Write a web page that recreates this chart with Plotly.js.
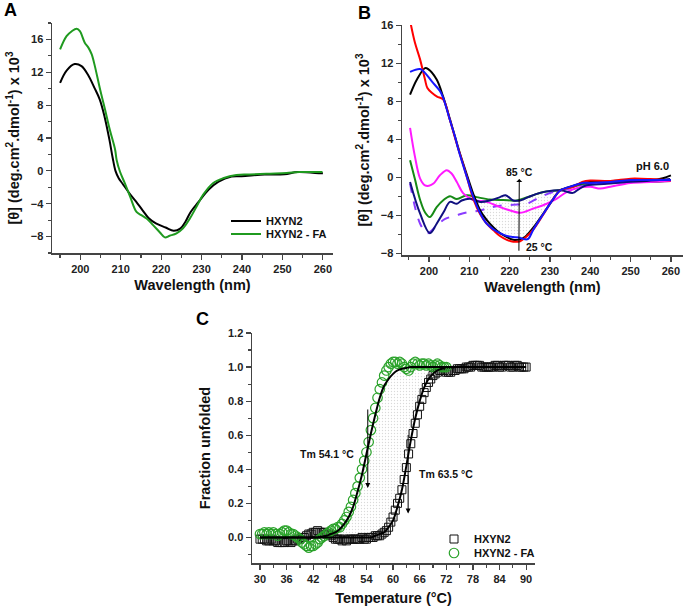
<!DOCTYPE html>
<html><head><meta charset="utf-8">
<script src="https://cdn.plot.ly/plotly-3.0.1.min.js"></script>
<style>html,body{margin:0;padding:0;background:#fff}#chart{width:685px;height:606px}</style>
</head><body><div id="chart"></div>
<script>
// ---------- Panel A : far-UV CD spectra ----------
const wlA_HXYN2 = [195,196.6,198.6,200.3,201.9,203.5,204.8,206,207.2,208,208.7,209.5,210.5,212.1,213.8,215.4,217,218.7,221.1,223.1,224.8,226,227.3,229.3,231.7,234.2,237.4,239.9,245.6,250.5,253.8,259.5,260];
const cdA_HXYN2 = [10.7,12.2,13.0,12.75,11.7,10.1,8.7,6.6,3.8,1.6,0.0,-0.9,-1.6,-2.7,-3.75,-4.8,-5.8,-6.4,-6.9,-7.3,-7.0,-6.2,-5.0,-3.75,-2.3,-1.3,-0.7,-0.65,-0.45,-0.4,-0.15,-0.3,-0.3];
const wlA_FA = [195,196.6,197.9,199.1,199.9,201.1,202,202.8,203.6,204.9,206.1,207.3,208.6,209,209.8,211,212.3,213.9,215.1,216.4,218,219.7,220.9,222.1,223.8,225.4,227.1,228.7,230.4,232.8,235.3,238.6,241.9,246,251,254.2,259.9];
const cdA_FA = [14.8,16.4,17.0,17.3,17.0,15.6,15.0,14.2,12.75,9.9,7.5,5.0,2.6,1.3,-0.08,-1.5,-3.1,-5.0,-5.4,-5.8,-6.6,-7.5,-8.1,-7.9,-7.6,-7.0,-5.8,-4.4,-2.9,-1.5,-0.9,-0.5,-0.45,-0.35,-0.25,-0.15,-0.15];

// ---------- Panel B : thermal series at pH 6.0 ----------
const wlB_red = [195.5,196.5,197.8,199,199.6,200.7,202,203.5,205.2,206.9,208.5,209.4,211,212.7,214.3,216,217.6,219.3,220.9,222.6,223.8,225.9,228.4,230.8,232.5,235.8,238,240,245,250,255,260];
const cdB_red = [16.1,14.2,12.4,10.3,9.4,8.9,8.5,8.2,6.0,3.5,1.3,0.0,-2.3,-3.9,-4.9,-5.6,-6.2,-6.6,-6.8,-6.75,-6.4,-5.5,-3.9,-2.3,-1.4,-1.0,-0.5,-0.35,-0.4,-0.15,-0.2,-0.35];
const wlB_black = [195.3,197,199,199.8,201.9,203.5,205.2,206.9,207.6,209.6,211.2,212.7,214.3,216,217.6,219.3,220.9,222.6,223.8,225.9,228.4,230.8,232.5,235.8,238,240,245,250,255,258,260];
const cdB_black = [8.7,10.3,11.5,11.4,10.3,8.5,6.1,3.6,2.6,0.0,-2.0,-3.5,-4.5,-5.3,-5.9,-6.3,-6.6,-6.55,-6.3,-5.3,-3.8,-2.3,-1.4,-0.9,-0.6,-0.5,-0.4,-0.3,-0.3,-0.1,0.2];
const wlB_blue = [195.3,197.8,199,200.7,202.7,203.5,205.2,206.5,207.3,209.4,211,212.7,214.3,216,217.6,219.3,220.9,222.6,223.8,224.6,225.9,228.4,230.8,232.5,235.8,238,240,245,250,255,260];
const cdB_blue = [11.1,11.4,11.0,10.1,9.1,8.4,6.0,4.2,2.9,0.0,-2.1,-3.8,-4.9,-5.5,-5.9,-6.2,-6.3,-6.4,-6.55,-6.5,-5.5,-3.85,-2.3,-1.4,-0.9,-0.6,-0.6,-0.5,-0.3,-0.3,-0.3];
const wlB_magenta = [195.3,196.5,197.8,199,200,201.1,202.7,204.4,205.6,206.9,208.5,211,214.3,217.6,220.1,222.6,225.9,229.2,231.7,234,237,240,242.5,245,250,255,260];
const cdB_magenta = [5.2,2.2,-0.14,-0.85,-0.9,-0.67,0.2,0.74,0.39,-0.5,-1.7,-2.4,-2.6,-3.15,-3.5,-3.75,-3.3,-2.8,-2.26,-1.6,-1.1,-1.0,-1.2,-1.0,-0.6,-0.5,-0.4];
const wlB_green = [195.3,196.5,197.8,199,200.2,201.9,203.6,205.2,206.9,209.4,211.8,215.1,218.4,221.8,225.1,228.4,231.7,235.8,240,245,250,255,260];
const cdB_green = [1.8,-0.2,-2.4,-3.7,-4.2,-3.15,-2.4,-2.0,-2.3,-1.9,-2.1,-2.35,-2.4,-2.45,-2.0,-1.55,-1.4,-1.0,-0.6,-0.5,-0.5,-0.5,-0.4];
const wlB_navy = [195.3,197.8,200.2,201.9,203.6,205.2,206.9,208.1,210.2,212.7,215.1,217.6,219,220.9,222.6,224.6,227.5,230.8,233,235.7,237,239.1,244.1,249,254,259.8];
const cdB_navy = [-0.5,-3.85,-5.9,-4.9,-3.7,-2.6,-2.8,-2.45,-2.26,-2.6,-2.45,-2.1,-1.9,-2.45,-2.45,-2.1,-1.65,-1.4,-1.4,-1.65,-1.3,-0.85,-0.7,-0.5,-0.4,-0.2];
const wlB_violet = [195.3,197.8,199.6,201.9,204,206.9,209.4,212.7,215.1,217.6,220.9,224.2,227.5,230.8,235,240,245,250,255,260];
const cdB_violet = [-0.67,-4.9,-5.9,-5.1,-4.4,-4.0,-3.7,-3.5,-3.2,-3.0,-2.9,-2.8,-2.1,-1.55,-1.2,-0.8,-0.6,-0.5,-0.4,-0.3];

// ---------- Panel C : thermal unfolding ----------
const tempHXYN2 = [30,30.5,31,31.5,32,32.5,33,33.5,34,34.5,35,35.5,36,36.5,37,37.5,38,38.5,39,39.5,40,40.5,41,41.5,42,42.5,43,43.5,44,44.5,45,45.5,46,46.5,47,47.5,48,48.5,49,49.5,50,50.5,51,51.5,52,52.5,53,53.5,54,54.5,55,55.5,56,56.5,57,57.5,58,58.5,59,59.5,60,60.5,61,61.5,62,62.5,63,63.5,64,64.5,65,65.5,66,66.5,67,67.5,68,68.5,69,69.5,70,70.5,71,71.5,72,72.5,73,73.5,74,74.5,75,75.5,76,76.5,77,77.5,78,78.5,79,79.5,80,80.5,81,81.5,82,82.5,83,83.5,84,84.5,85,85.5,86,86.5,87,87.5,88,88.5,89,89.5,90];
const fracHXYN2 = [-0.01,-0.01,-0.01,-0.02,-0.02,-0.01,-0.02,-0.02,-0.03,-0.03,-0.03,-0.03,-0.02,-0.02,-0.03,-0.02,-0.02,-0.01,-0.01,0.00,
 0.00,0.01,0.02,0.02,0.03,0.03,0.04,0.03,0.03,0.03,0.02,0.02,0.01,0.00,-0.01,-0.01,-0.01,-0.02,-0.01,-0.02,
 -0.01,-0.01,-0.01,-0.01,-0.01,-0.01,0.00,-0.01,-0.01,0.00,0.00,0.00,0.01,0.01,0.01,0.02,0.03,0.04,0.06,0.09,
 0.12,0.16,0.20,0.23,0.28,0.34,0.41,0.49,0.55,0.61,0.67,0.72,0.77,0.81,0.85,0.88,0.91,0.93,0.95,0.96,
 0.97,0.98,0.98,0.98,0.97,0.97,0.97,0.98,0.98,0.99,0.99,0.99,0.99,1.00,1.00,1.00,1.01,1.01,1.01,1.01,
 1.00,1.00,1.00,1.00,1.00,1.00,1.01,1.01,1.00,1.00,1.01,1.01,1.01,1.00,1.00,1.01,1.01,1.00,1.00,1.00,
 1.00];
const tempFA = [30,30.5,31,31.5,32,32.5,33,33.5,34,34.5,35,35.5,36,36.5,37,37.5,38,38.5,39,39.5,40,40.5,41,41.5,42,42.5,43,43.5,44,44.5,45,45.5,46,46.5,47,47.5,48,48.5,49,49.5,50,50.5,51,51.5,52,52.5,53,53.5,54,54.5,55,55.5,56,56.5,57,57.5,58,58.5,59,59.5,60,60.5,61,61.5,62,62.5,63,63.5,64,64.5,65,65.5,66,66.5,67,67.5,68,68.5,69,69.5,70,70.5,71,71.5,72];
const fracFA = [0.02,0.02,0.03,0.02,0.03,0.02,0.03,0.02,0.01,0.02,0.03,0.04,0.04,0.03,0.02,0.02,0.01,0.00,-0.01,-0.03,
 -0.04,-0.05,-0.06,-0.05,-0.05,-0.04,-0.03,-0.01,0.00,0.01,0.02,0.03,0.04,0.05,0.05,0.06,0.06,0.08,0.10,0.12,
 0.15,0.18,0.22,0.26,0.30,0.35,0.40,0.45,0.50,0.56,0.63,0.70,0.76,0.82,0.87,0.91,0.95,0.98,1.00,1.02,
 1.03,1.03,1.02,1.03,1.02,1.00,0.99,0.98,1.00,1.02,1.03,1.02,1.01,1.02,1.02,1.01,1.02,1.01,1.00,1.01,
 1.02,1.01,1.00,1.00,1.00];
const fitTempFA = [30,31,32,33,34,35,36,37,38,39,40,41,42,43,44,45,46,47,48,49,50,51,52,53,54,55,56,57,58,59,60,61,62,63,64,65,66,67,68,69,70,71,72];
const fitFA = [0,0,0,0,0,0,0,0,0,0,0,0,0,0,0.005,0.01,0.02,0.03,0.05,0.08,0.12,0.18,0.27,0.37,0.49,0.61,0.72,0.82,0.89,0.93,0.96,0.98,0.99,0.995,1,1,1,1,1,1,1,1,1];
const fitTempHX = [30,31,32,33,34,35,36,37,38,39,40,41,42,43,44,45,46,47,48,49,50,51,52,53,54,55,56,57,58,59,60,61,62,63,64,65,66,67,68,69,70,71,72,73,74,75,76,77,78,79,80,81,82,83,84,85,86,87,88,89,90];
const fitHX = [0,0,0,0,0,0,0,0,0,0,0,0,0,0,0,0,0,0,0,0,0,0,0,0,0,0,0.01,0.02,0.03,0.06,0.1,0.18,0.28,0.42,0.57,0.7,0.8,0.88,0.93,0.96,0.98,0.99,1,1,1,1,1,1,1,1,1,1,1,1,1,1,1,1,1,1,1];

const seriesNames = ['HXYN2', 'HXYN2 - FA'];

// ---------- helpers ----------
function sub(xs, ys, lo, hi) {
  const x = [], y = [];
  xs.forEach((v, i) => { if (v >= lo && v <= hi) { x.push(v); y.push(ys[i]); } });
  return {x, y};
}
const F = 'Arial, "Liberation Sans", sans-serif';
const bold = (s, c) => ({family: F, size: s, color: c || '#111', weight: 700});
function axis(o) {
  return Object.assign({
    showline: true, linecolor: '#444', linewidth: 1.5, mirror: false,
    ticks: 'outside', ticklen: 5, tickwidth: 1.2, tickcolor: '#444',
    showgrid: false, zeroline: false, tickfont: bold(11, '#222'),
    automargin: false
  }, o);
}
const pat = {shape: '.', fgcolor: '#d9d9d9', bgcolor: 'rgba(255,255,255,0)', size: 3, solidity: 0.15};

const traces = [];
// Panel A
traces.push({x: wlA_HXYN2, y: cdA_HXYN2, xaxis: 'x', yaxis: 'y', mode: 'lines', name: seriesNames[0],
  line: {color: '#000', width: 2, shape: 'spline'}, legend: 'legend'});
traces.push({x: wlA_FA, y: cdA_FA, xaxis: 'x', yaxis: 'y', mode: 'lines', name: seriesNames[1],
  line: {color: '#1f9a1f', width: 2, shape: 'spline'}, legend: 'legend2'});

// Panel B shading between 85 °C and 25 °C curves
const bLow = sub(wlB_blue, cdB_blue, 210.5, 232.5);
const bHigh = sub(wlB_navy, cdB_navy, 210.5, 232.5);
traces.push({x: bLow.x, y: bLow.y, xaxis: 'x2', yaxis: 'y2', mode: 'lines', line: {width: 0, shape: 'spline'}, showlegend: false});
traces.push({x: bHigh.x, y: bHigh.y, xaxis: 'x2', yaxis: 'y2', mode: 'lines', line: {width: 0, shape: 'spline'}, fill: 'tonexty',
  fillcolor: 'rgba(235,235,235,0.6)', fillpattern: pat, showlegend: false});
const bSeries = [
  [wlB_green, cdB_green, '#168a16', 'solid'],
  [wlB_violet, cdB_violet, '#8a3cff', 'dash'],
  [wlB_magenta, cdB_magenta, '#ff1aff', 'solid'],
  [wlB_navy, cdB_navy, '#101080', 'solid'],
  [wlB_black, cdB_black, '#000000', 'solid'],
  [wlB_red, cdB_red, '#ff0000', 'solid'],
  [wlB_blue, cdB_blue, '#1515ff', 'solid']
];
bSeries.forEach(s => traces.push({x: s[0], y: s[1], xaxis: 'x2', yaxis: 'y2', mode: 'lines',
  line: {color: s[2], width: 2, dash: s[3], shape: 'spline'}, showlegend: false}));

// Panel C shading between fits
const cLow = sub(fitTempHX, fitHX, 45, 72);
const cHigh = sub(fitTempFA, fitFA, 45, 72);
traces.push({x: cLow.x, y: cLow.y, xaxis: 'x3', yaxis: 'y3', mode: 'lines', line: {width: 0}, showlegend: false});
traces.push({x: cHigh.x, y: cHigh.y, xaxis: 'x3', yaxis: 'y3', mode: 'lines', line: {width: 0}, fill: 'tonexty',
  fillcolor: 'rgba(235,235,235,0.6)', fillpattern: pat, showlegend: false});
traces.push({x: tempHXYN2, y: fracHXYN2, xaxis: 'x3', yaxis: 'y3', mode: 'markers', name: seriesNames[0], legend: 'legend3',
  marker: {symbol: 'square-open', size: 8, color: '#111', line: {width: 1}}});
traces.push({x: tempFA, y: fracFA, xaxis: 'x3', yaxis: 'y3', mode: 'markers', name: seriesNames[1], legend: 'legend4',
  marker: {symbol: 'circle-open', size: 9.5, color: '#2aa22a', line: {width: 1.2}}});
traces.push({x: fitTempHX, y: fitHX, xaxis: 'x3', yaxis: 'y3', mode: 'lines', line: {color: '#000', width: 2, shape: 'spline'}, showlegend: false});
traces.push({x: fitTempFA, y: fitFA, xaxis: 'x3', yaxis: 'y3', mode: 'lines', line: {color: '#000', width: 2, shape: 'spline'}, showlegend: false});

const W = 685, H = 606;
const px = v => v / W, py = v => 1 - v / H;
const cdTitle = '[θ] (deg.cm<sup>2</sup>.dmol<sup>-1</sup>) x 10<sup>3</sup>';
const leg = (x, y) => ({x: px(x), y: py(y), xanchor: 'left', yanchor: 'middle', bgcolor: 'rgba(0,0,0,0)',
  font: bold(11), traceorder: 'normal', itemwidth: 30, borderwidth: 0});

const layout = {
  width: W, height: H, margin: {l: 0, r: 0, t: 0, b: 0},
  paper_bgcolor: '#fff', plot_bgcolor: 'rgba(0,0,0,0)', hovermode: false,
  font: {family: F},
  xaxis: axis({domain: [px(52), px(333)], anchor: 'y', range: [193, 262.5], tick0: 200, dtick: 10,
    minor: {dtick: 5, tick0: 195, ticks: 'outside', ticklen: 3, tickcolor: '#444'},
    title: {text: 'Wavelength (nm)', font: bold(14.5), standoff: 6}}),
  yaxis: axis({domain: [py(253), py(23)], anchor: 'x', range: [-10, 18], tick0: 0, dtick: 4,
    minor: {dtick: 2, ticks: 'outside', ticklen: 3, tickcolor: '#444'},
    title: {text: cdTitle, font: bold(14.5), standoff: 7}}),
  xaxis2: axis({domain: [px(402), px(683)], anchor: 'y2', range: [193.3, 263], tick0: 200, dtick: 10,
    minor: {dtick: 5, tick0: 195, ticks: 'outside', ticklen: 3, tickcolor: '#444'},
    title: {text: 'Wavelength (nm)', font: bold(14.5), standoff: 6}}),
  yaxis2: axis({domain: [py(255), py(25)], anchor: 'x2', range: [-8.2, 16.05], tick0: 0, dtick: 4,
    minor: {dtick: 2, ticks: 'outside', ticklen: 3, tickcolor: '#444'},
    title: {text: cdTitle, font: bold(14.5), standoff: 7}}),
  xaxis3: axis({domain: [px(252), px(535)], anchor: 'y3', range: [28.2, 92], tick0: 30, dtick: 6,
    minor: {dtick: 3, ticks: 'outside', ticklen: 3, tickcolor: '#444'},
    title: {text: 'Temperature (°C)', font: bold(14.5), standoff: 12}}),
  yaxis3: axis({domain: [py(563), py(333)], anchor: 'x3', range: [-0.15, 1.2], tick0: 0, dtick: 0.2, tickformat: '.1f',
    minor: {dtick: 0.1, ticks: 'outside', ticklen: 3, tickcolor: '#444'},
    title: {text: 'Fraction unfolded', font: bold(14.5), standoff: 14}}),
  legend: leg(226, 221),
  legend2: leg(226, 234),
  legend3: leg(434, 539),
  legend4: leg(434, 553),
  annotations: [
    {text: '<b>A</b>', xref: 'paper', yref: 'paper', x: px(2), y: py(10), xanchor: 'left', yanchor: 'middle', showarrow: false, font: {family: F, size: 18, color: '#000'}},
    {text: '<b>B</b>', xref: 'paper', yref: 'paper', x: px(356), y: py(13), xanchor: 'left', yanchor: 'middle', showarrow: false, font: {family: F, size: 18, color: '#000'}},
    {text: '<b>C</b>', xref: 'paper', yref: 'paper', x: px(194), y: py(319), xanchor: 'left', yanchor: 'middle', showarrow: false, font: {family: F, size: 18, color: '#000'}},
    {text: '85 °C', xref: 'x2', yref: 'y2', axref: 'x2', ayref: 'y2', x: 222.3, y: -7.75, ax: 222.4, ay: 0.6,
      showarrow: true, arrowside: 'start', arrowhead: 2, arrowsize: 1, arrowwidth: 1, arrowcolor: '#000', standoff: 0, startstandoff: 0, font: bold(10.5)},
    {text: '25 °C', xref: 'x2', yref: 'y2', x: 227.3, y: -7.4, showarrow: false, font: bold(10.5)},
    {text: 'pH 6.0', xref: 'x2', yref: 'y2', x: 255.5, y: 1.2, showarrow: false, font: bold(11)},
    {text: '', xref: 'x3', yref: 'y3', axref: 'x3', ayref: 'y3', x: 54.3, y: 0.29, ax: 54.3, ay: 0.76, showarrow: true, arrowhead: 2, arrowsize: 1, arrowwidth: 1, arrowcolor: '#000', standoff: 0},
    {text: '', xref: 'x3', yref: 'y3', axref: 'x3', ayref: 'y3', x: 63.4, y: 0.14, ax: 63.4, ay: 0.61, showarrow: true, arrowhead: 2, arrowsize: 1, arrowwidth: 1, arrowcolor: '#000', standoff: 0},
    {text: 'Tm 54.1 °C', xref: 'x3', yref: 'y3', x: 45.0, y: 0.49, showarrow: false, font: bold(10.5)},
    {text: 'Tm 63.5 °C', xref: 'x3', yref: 'y3', x: 72.0, y: 0.37, showarrow: false, font: bold(10.5)}
  ]
};

Plotly.newPlot('chart', traces, layout, {staticPlot: true, displayModeBar: false});
</script>
</body></html>
